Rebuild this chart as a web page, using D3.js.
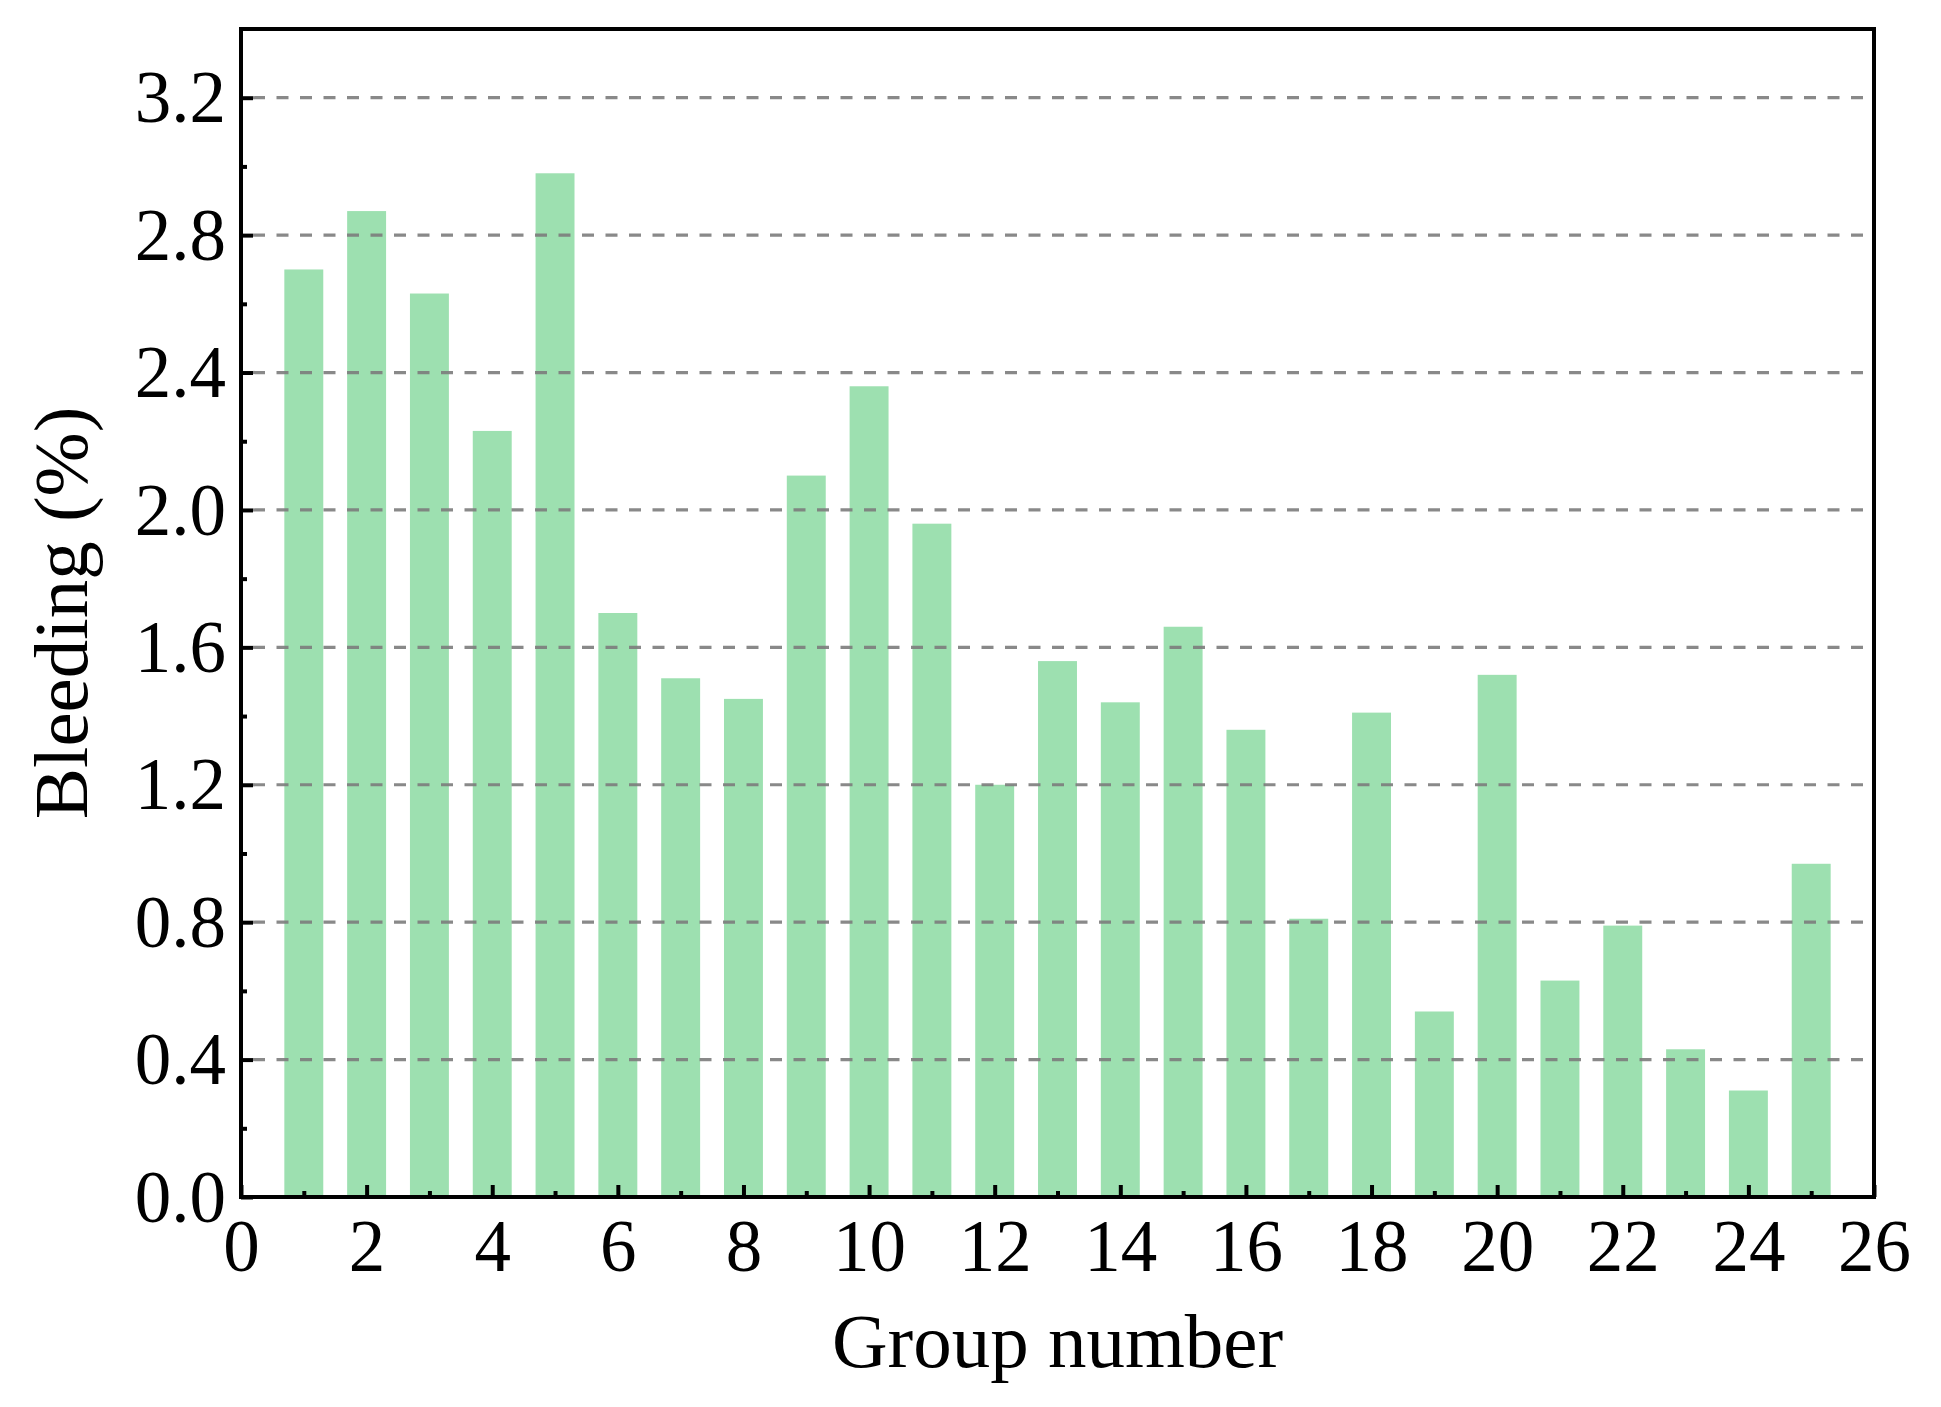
<!DOCTYPE html>
<html>
<head>
<meta charset="utf-8">
<script src="https://cdn.jsdelivr.net/npm/d3@7"></script>
<style>
  html, body { margin: 0; padding: 0; background: #fff; }
  svg { display: block; }
  text { font-family: "Liberation Serif", "Times New Roman", serif; fill: #000; }
</style>
</head>
<body>
<svg id="chart" width="1941" height="1407"></svg>
<script>
// ---- data ----
const groups = [1,2,3,4,5,6,7,8,9,10,11,12,13,14,15,16,17,18,19,20,21,22,23,24,25];
const bleeding = [2.70,2.87,2.63,2.23,2.98,1.70,1.51,1.45,2.10,2.36,1.96,1.20,1.56,1.44,1.66,1.36,0.81,1.41,0.54,1.52,0.63,0.79,0.43,0.31,0.97];
const xMajorTicks = [0,2,4,6,8,10,12,14,16,18,20,22,24,26];
const xMinorTicks = [1,3,5,7,9,11,13,15,17,19,21,23,25];
const yMajorTicks = [0.0,0.4,0.8,1.2,1.6,2.0,2.4,2.8,3.2];
const yMinorTicks = [0.2,0.6,1.0,1.4,1.8,2.2,2.6,3.0];
const xDomain = [0, 26];
const yDomain = [0, 3.4];
const xLabel = "Group number";
const yLabel = "Bleeding (%)";

// ---- layout ----
const L = 241, R = 1874, T = 29, B = 1197;
const barColor = "#9de0b0";

const svg = d3.select("#chart");
const x = d3.scaleLinear().domain(xDomain).range([L, R]);
const y = d3.scaleLinear().domain(yDomain).range([B, T]);
const barW = x(0.62) - x(0);

// bars
svg.append("g").selectAll("rect")
  .data(groups)
  .join("rect")
  .attr("x", (d) => x(d) - barW / 2)
  .attr("width", barW)
  .attr("y", (d, i) => y(bleeding[i]))
  .attr("height", (d, i) => y(0) - y(bleeding[i]))
  .attr("fill", barColor);

// gridlines (dashed)
svg.append("g").selectAll("line")
  .data(yMajorTicks.filter(v => v > 0))
  .join("line")
  .attr("x1", L + 2).attr("x2", R)
  .attr("y1", d => y(d)).attr("y2", d => y(d))
  .attr("stroke", "#7c7c7c")
  .attr("stroke-opacity", 0.9)
  .attr("stroke-width", 3.2)
  .attr("stroke-dasharray", "12,11.5")
  .attr("stroke-dashoffset", -10);

const axisStroke = 4;

// bottom axis: major ticks (inward)
const xAxisMajor = d3.axisBottom(x).tickValues(xMajorTicks).tickSize(-12).tickFormat(d3.format("d"));
const gx = svg.append("g").attr("transform", `translate(0,${B})`).call(xAxisMajor);
gx.select(".domain").remove();
gx.selectAll(".tick line").attr("stroke", "#000").attr("stroke-width", axisStroke);
gx.selectAll(".tick text")
  .attr("y", 74).attr("dy", 0)
  .style("font-size", "73px");

// bottom axis: minor ticks
const xAxisMinor = d3.axisBottom(x).tickValues(xMinorTicks).tickSize(-6).tickFormat("");
const gxm = svg.append("g").attr("transform", `translate(0,${B})`).call(xAxisMinor);
gxm.select(".domain").remove();
gxm.selectAll(".tick line").attr("stroke", "#000").attr("stroke-width", axisStroke);

// left axis: major ticks (inward)
const yAxisMajor = d3.axisLeft(y).tickValues(yMajorTicks).tickSize(-12).tickFormat(d3.format(".1f"));
const gy = svg.append("g").attr("transform", `translate(${L},0)`).call(yAxisMajor);
gy.select(".domain").remove();
gy.selectAll(".tick line").attr("stroke", "#000").attr("stroke-width", axisStroke);
gy.selectAll(".tick text")
  .attr("x", -15).attr("dy", "0.33em")
  .attr("text-anchor", "end")
  .style("font-size", "73px");

// left axis: minor ticks
const yAxisMinor = d3.axisLeft(y).tickValues(yMinorTicks).tickSize(-6).tickFormat("");
const gym = svg.append("g").attr("transform", `translate(${L},0)`).call(yAxisMinor);
gym.select(".domain").remove();
gym.selectAll(".tick line").attr("stroke", "#000").attr("stroke-width", axisStroke);

// frame
svg.append("rect")
  .attr("x", L).attr("y", T)
  .attr("width", R - L).attr("height", B - T)
  .attr("fill", "none")
  .attr("stroke", "#000")
  .attr("stroke-width", axisStroke);

// axis titles
svg.append("text")
  .attr("x", (L + R) / 2).attr("y", 1367)
  .attr("text-anchor", "middle")
  .style("font-size", "77px")
  .text(xLabel);

svg.append("text")
  .attr("transform", `translate(87,${(T + B) / 2}) rotate(-90)`)
  .attr("text-anchor", "middle")
  .style("font-size", "77px")
  .text(yLabel);
</script>
</body>
</html>
